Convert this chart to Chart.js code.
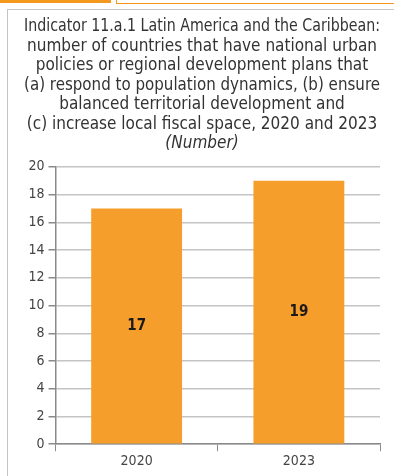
<!DOCTYPE html>
<html>
<head>
<meta charset="utf-8">
<script src="https://cdn.jsdelivr.net/npm/chart.js@4.4.1/dist/chart.umd.min.js"></script>
<style>
  html, body { margin: 0; padding: 0; background: #fff; }
  body { width: 394px; height: 476px; position: relative; overflow: hidden; }
  .tab { position: absolute; left: 0; top: 0; width: 111px; height: 3px; background: #F39A1E; }
  .tabbox { position: absolute; left: 116px; top: -2px; width: 300px; height: 4px; border: 1px solid #F39A1E; }
  .frame { position: absolute; left: 7px; top: 9px; width: 420px; height: 500px; border-left: 1px solid #c4c4c4; border-top: 1px solid #c4c4c4; }
  #wrap { position: absolute; left: 0; top: 0; width: 394px; height: 476px; }
</style>
</head>
<body>
<div class="tab"></div>
<div class="tabbox"></div>
<div class="frame"></div>
<div id="wrap"><canvas id="c" width="394" height="476"></canvas></div>
<script>
const FONT = "'Liberation Sans Narrow', 'DejaVu Sans Condensed', 'Roboto Condensed', sans-serif";

const titleLines = [
  'Indicator 11.a.1 Latin America and the Caribbean:',
  'number of countries that have national urban',
  'policies or regional development plans that',
  '(a) respond to population dynamics, (b) ensure',
  'balanced territorial development and',
  '(c) increase local fiscal space, 2020 and 2023'
];
const unitLabel = '(Number)';
const years = ['2020', '2023'];
const countries = [17, 19];
const yTicks = [0, 2, 4, 6, 8, 10, 12, 14, 16, 18, 20];

// Writes each bar's value in the middle of the bar
const barValues = {
  id: 'barValues',
  afterDatasetsDraw(chart) {
    const ctx = chart.ctx;
    const meta = chart.getDatasetMeta(0);
    ctx.save();
    ctx.font = 'bold 15px ' + FONT;
    ctx.fillStyle = '#1a1a1a';
    ctx.textAlign = 'center';
    ctx.textBaseline = 'middle';
    meta.data.forEach((bar, i) => {
      const v = chart.data.datasets[0].data[i];
      ctx.fillText(String(v), bar.x, (bar.y + bar.base) / 2);
    });
    ctx.restore();
  }
};

new Chart(document.getElementById('c'), {
  type: 'bar',
  data: {
    labels: years,
    datasets: [{
      data: countries,
      backgroundColor: '#F69E2B',
      borderWidth: 0,
      categoryPercentage: 0.56,
      barPercentage: 1.0
    }]
  },
  options: {
    responsive: false,
    animation: false,
    devicePixelRatio: 1,
    layout: { padding: { left: 24, right: 14, top: 0, bottom: 4 } },
    plugins: {
      legend: { display: false },
      tooltip: { enabled: false },
      title: {
        display: true,
        text: titleLines,
        color: '#333',
        font: { family: FONT, size: 17, weight: 'normal', lineHeight: 1.15 },
        padding: { top: 17, bottom: 0 }
      },
      subtitle: {
        display: true,
        text: unitLabel,
        color: '#333',
        font: { family: FONT, size: 17, style: 'italic', weight: 'normal', lineHeight: 1.15 },
        padding: { top: 0, bottom: 13 }
      }
    },
    scales: {
      x: {
        offset: true,
        grid: {
          offset: true,
          drawOnChartArea: false,
          drawTicks: true,
          tickLength: 7,
          tickColor: '#8a8a8a'
        },
        border: { display: true, color: '#8a8a8a', width: 1.5 },
        ticks: { color: '#444', font: { family: FONT, size: 14 }, padding: 2 }
      },
      y: {
        min: 0,
        max: 20,
        afterBuildTicks(scale) { scale.ticks = yTicks.map(v => ({ value: v })); },
        afterFit(scale) { scale.width = 31.5; },
        grid: {
          color: '#c4c4c4',
          lineWidth: 1.5,
          drawTicks: true,
          tickLength: 7,
          tickColor: '#8a8a8a'
        },
        border: { display: true, color: '#8a8a8a', width: 1.5 },
        ticks: { color: '#444', font: { family: FONT, size: 14 }, padding: 4 }
      }
    }
  },
  plugins: [barValues]
});
</script>
</body>
</html>
